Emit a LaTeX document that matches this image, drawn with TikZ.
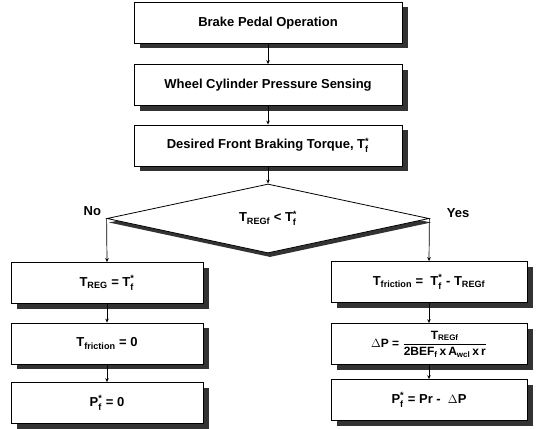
\documentclass[tikz,border=0pt]{standalone}
\usepackage{amsmath}
\usepackage{fontspec}
\setmainfont{Liberation Sans}
\usetikzlibrary{arrows.meta,shapes.geometric,shadows}
\newcommand\Tfs{T$_{\text{f}}^{\text{*}}$}
\newcommand\Pfs{P$_{\text{f}}^{\text{*}}$}
\tikzset{
  box/.style={draw, line width=0.8pt, fill=white, inner sep=0pt,
    minimum height=41pt, align=center,
    font=\fontsize{13}{15}\selectfont\bfseries,
    drop shadow={shadow xshift=6pt, shadow yshift=-5pt, fill=black!80, opacity=1}},
  topbox/.style={box, minimum width=268pt},
  leftbox/.style={box, minimum width=192pt},
  rightbox/.style={box, minimum width=196pt},
  arr/.style={line width=0.7pt, -{Stealth[length=4pt,width=3.5pt]}},
  lbl/.style={font=\fontsize{13}{15}\selectfont\bfseries}
}
\begin{document}
\begin{tikzpicture}[x=1pt,y=-1pt]
\path[use as bounding box] (0,0) rectangle (537,428);
% top column
\node[topbox] (b1) at (268,23) {Brake Pedal Operation};
\node[topbox] (b2) at (268,85) {Wheel Cylinder Pressure Sensing};
\node[topbox] (b3) at (268,145.5) {Desired Front Braking Torque, \Tfs};
% decision
\node[diamond, draw=none, fill=black!80, inner sep=0pt, minimum width=322pt,
      minimum height=69pt, aspect=4.67] at (270,222.5) {};
\node[diamond, draw, line width=0.8pt, fill=white, inner sep=0pt, minimum width=322pt,
      minimum height=69pt, aspect=4.67, font=\fontsize{13}{15}\selectfont\bfseries]
      (d) at (268,218.5) {T\textsubscript{REGf} {\normalfont\bfseries<} \Tfs};
\node[lbl, anchor=south east] (no) at ([xshift=-2pt,yshift=-1pt]d.west) {No};
\node[lbl, anchor=south west] (yes) at ([xshift=14pt,yshift=-3pt]d.east) {Yes};
% left column
\node[leftbox] (l1) at (107,283) {T\textsubscript{REG} = \Tfs};
\node[leftbox] (l2) at (107,343.5) {T\textsubscript{friction} = 0};
\node[leftbox] (l3) at (107,403) {\Pfs{} = 0};
% right column
\node[rightbox] (r1) at (429,282) {T\textsubscript{friction} = \ \Tfs{} - T\textsubscript{REGf}};
\node[rightbox, font=\fontsize{12}{14}\selectfont\bfseries] (r2) at (429,344)
  {$\Delta$P = $\dfrac{\text{T}_{\text{REGf}}}{\text{2BEF}_{\text{f}}\,\text{x}\,\text{A}_{\text{wcl}}\,\text{x}\,\text{r}}$};
\node[rightbox] (r3) at (429,400) {\Pfs{} = Pr - \ $\Delta$P};
% connectors
\draw[arr] (b1.south) -- (b2.north);
\draw[arr] (b2.south) -- (b3.north);
\draw[arr] (b3.south) -- (d.north);
\draw[arr] (d.west) -- (l1.north);
\draw[arr] (d.east) -- (r1.north);
\draw[arr] (l1.south) -- (l2.north);
\draw[arr] (l2.south) -- (l3.north);
\draw[arr] (r1.south) -- (r2.north);
\draw[arr] (r2.south) -- (r3.north);
\end{tikzpicture}
\end{document}
